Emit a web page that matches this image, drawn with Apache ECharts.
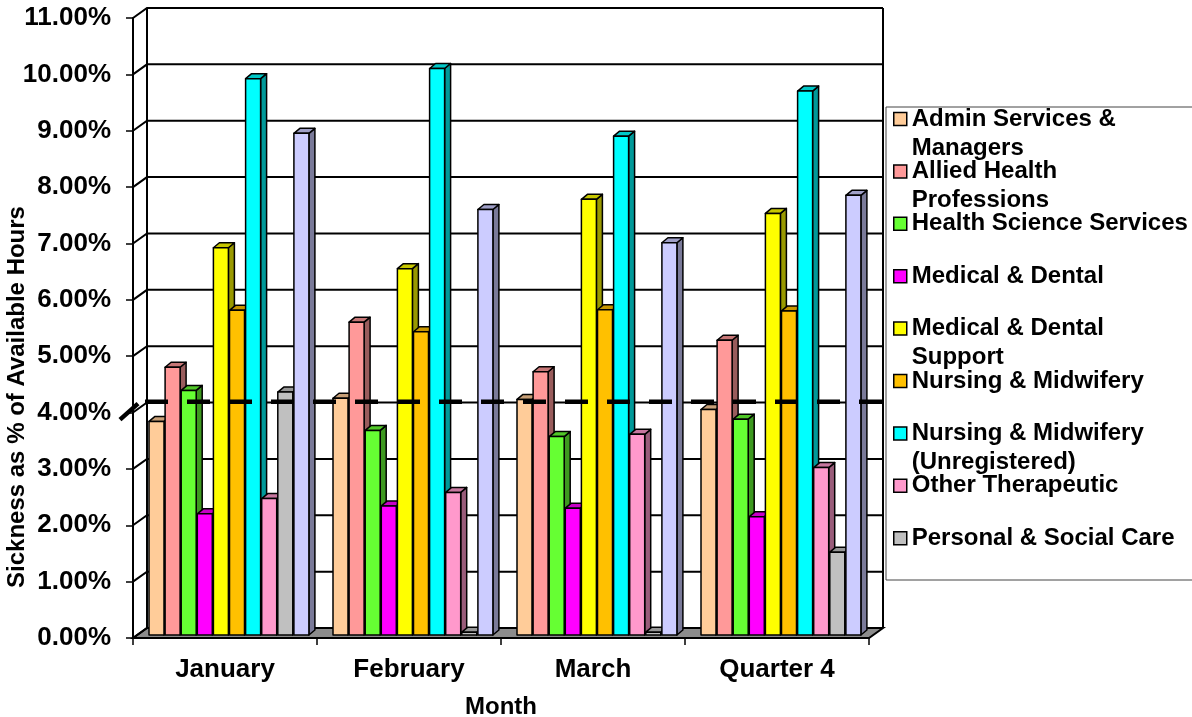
<!DOCTYPE html>
<html>
<head>
<meta charset="utf-8">
<script src="https://cdn.jsdelivr.net/npm/echarts@6/dist/echarts.min.js"></script>
<style>
html, body { margin: 0; padding: 0; background: #fff; }
#chart { width: 1192px; height: 717px; }
</style>
</head>
<body>
<div id="chart"></div>
<script>
// categories
var months = ["January", "February", "March", "Quarter 4"];
// y axis ticks (percent)
var yTicks = [0, 1, 2, 3, 4, 5, 6, 7, 8, 9, 10, 11];

// sickness % per staff group
var adminServices = [3.79, 4.20, 4.18, 4.00];
var alliedHealth = [4.75, 5.55, 4.67, 5.23];
var healthScience = [4.34, 3.63, 3.52, 3.83];
var medicalDental = [2.15, 2.29, 2.25, 2.10];
var medDentalSupport = [6.87, 6.50, 7.73, 7.48];
var nursingMidwifery = [5.76, 5.38, 5.77, 5.75];
var nursingUnregistered = [9.87, 10.05, 8.85, 9.65];
var otherTherapeutic = [2.42, 2.53, 3.56, 2.97];
var personalSocial = [4.31, 0.05, 0.05, 1.47];
var students = [8.90, 7.55, 6.96, 7.80];

// dashed target
var targetLevel = 4.14;

var seriesNames = [
  "Admin Services & Managers",
  "Allied Health Professions",
  "Health Science Services",
  "Medical & Dental",
  "Medical & Dental Support",
  "Nursing & Midwifery",
  "Nursing & Midwifery (Unregistered)",
  "Other Therapeutic",
  "Personal & Social Care",
  "Students"
];
var seriesData = [adminServices, alliedHealth, healthScience, medicalDental, medDentalSupport,
  nursingMidwifery, nursingUnregistered, otherTherapeutic, personalSocial, students];
var colors = ["#FFCC99", "#FF9999", "#66FF33", "#FF00FF", "#FFFF00",
  "#FFC000", "#00FFFF", "#FF99CC", "#C0C0C0", "#CCCCFF"];

// legend text as shown (wrapped)
var legendText = {
  "Admin Services & Managers": "Admin Services &\nManagers",
  "Allied Health Professions": "Allied Health\nProfessions",
  "Medical & Dental Support": "Medical & Dental\nSupport",
  "Nursing & Midwifery (Unregistered)": "Nursing & Midwifery\n(Unregistered)"
};

var FONT = '"Liberation Sans", Arial, sans-serif';

function shade(hex, f) {
  var n = parseInt(hex.slice(1), 16);
  var r = Math.round(((n >> 16) & 255) * f);
  var g = Math.round(((n >> 8) & 255) * f);
  var b = Math.round((n & 255) * f);
  return "rgb(" + r + "," + g + "," + b + ")";
}

// 3d-ish column
function barItem(si) {
  return function (params, api) {
    var cat = api.value(0);
    var v = api.value(1);
    var base = api.coord([cat, 0]);
    var top = api.coord([cat, v]);
    var bw = api.size([1, 0])[0];
    var k = bw / 184;
    var xl = base[0] - bw / 2 + (16 + si * 16.1) * k;
    var w = 15 * k;
    var yb = base[1] - 3;
    var yt = top[1] - 3;
    var ddx = 6, ddy = -5;
    var c = colors[si];
    var st = { stroke: "#000", lineWidth: 1.5, lineJoin: "round" };
    return {
      type: "group",
      children: [
        { type: "polygon", shape: { points: [[xl + w, yt], [xl + w + ddx, yt + ddy], [xl + w + ddx, yb + ddy], [xl + w, yb]] },
          style: Object.assign({ fill: shade(c, 0.6) }, st) },
        { type: "polygon", shape: { points: [[xl, yt], [xl + w, yt], [xl + w + ddx, yt + ddy], [xl + ddx, yt + ddy]] },
          style: Object.assign({ fill: shade(c, 0.78) }, st) },
        { type: "rect", shape: { x: xl, y: yt, width: w, height: yb - yt },
          style: Object.assign({ fill: c }, st) }
      ]
    };
  };
}

// walls, floor and gridlines
function frameItem(params, api) {
  var cs = params.coordSys;
  var x0 = cs.x, x1 = cs.x + cs.width;
  var dx = 14, dy = -10;
  var y0 = api.coord([0, 0])[1];
  var yTop = api.coord([0, yTicks[yTicks.length - 1]])[1];
  var line = { stroke: "#000", lineWidth: 2, fill: null };
  var children = [];
  children.push({ type: "polygon",
    shape: { points: [[x0, y0], [x1, y0], [x1 + dx, y0 + dy], [x0 + dx, y0 + dy]] },
    style: { fill: "#8c8c8c", stroke: "#000", lineWidth: 2 } });
  yTicks.forEach(function (t) {
    var y = api.coord([0, t])[1];
    children.push({ type: "polyline",
      shape: { points: [[x0, y], [x0 + dx, y + dy], [x1 + dx, y + dy]] }, style: line });
  });
  children.push({ type: "line", shape: { x1: x0 + dx, y1: y0 + dy, x2: x0 + dx, y2: yTop + dy }, style: line });
  children.push({ type: "line", shape: { x1: x1 + dx, y1: y0 + dy, x2: x1 + dx, y2: yTop + dy }, style: line });
  return { type: "group", children: children };
}

// dashed target line + break mark on the axis
function targetItem(params, api) {
  var cs = params.coordSys;
  var x0 = cs.x, x1 = cs.x + cs.width;
  var y = api.coord([0, api.value(1)])[1] - 3;
  return {
    type: "group",
    children: [
      { type: "line", shape: { x1: x0 + 12, y1: y, x2: x1 + 14, y2: y },
        style: { stroke: "#000", lineWidth: 4.5, lineDash: [23, 19] } },
      { type: "line", shape: { x1: x0 - 13, y1: y + 18, x2: x0 + 5, y2: y + 2 },
        style: { stroke: "#000", lineWidth: 4.5 } }
    ]
  };
}

var series = [{
  type: "custom",
  name: "frame",
  z: 1,
  silent: true,
  renderItem: frameItem,
  data: [[0, 0]]
}];
seriesData.forEach(function (arr, si) {
  series.push({
    type: "custom",
    name: seriesNames[si],
    z: 2,
    itemStyle: { color: colors[si] },
    renderItem: barItem(si),
    encode: { x: 0, y: 1 },
    data: arr.map(function (v, i) { return [i, v]; })
  });
});
series.push({
  type: "custom",
  name: "target",
  z: 3,
  silent: true,
  renderItem: targetItem,
  data: [[0, targetLevel]]
});

var chart = echarts.init(document.getElementById("chart"));
chart.setOption({
  backgroundColor: "#fff",
  animation: false,
  grid: { left: 133, right: 323, top: 18, bottom: 79, outerBoundsMode: "none", containLabel: false },
  xAxis: {
    type: "category",
    data: months,
    name: "Month",
    nameLocation: "middle",
    nameGap: 57,
    nameMoveOverlap: false,
    nameTextStyle: { fontFamily: FONT, fontWeight: "bold", fontSize: 24, color: "#000" },
    axisLine: { lineStyle: { color: "#000", width: 2 } },
    axisTick: { show: true, length: 7, alignWithLabel: false, lineStyle: { color: "#000", width: 1.5 } },
    axisLabel: { margin: 19, fontFamily: FONT, fontWeight: "bold", fontSize: 26, color: "#000" },
    splitLine: { show: false }
  },
  yAxis: {
    type: "value",
    min: 0,
    max: 11,
    interval: 1,
    name: "Sickness as % of Available Hours",
    nameLocation: "middle",
    nameGap: 104,
    nameMoveOverlap: false,
    nameTextStyle: { fontFamily: FONT, fontWeight: "bold", fontSize: 24, color: "#000", padding: [0, 138, 0, 0] },
    axisLine: { show: true, lineStyle: { color: "#000", width: 2 } },
    axisTick: { show: true, length: 7, lineStyle: { color: "#000", width: 1.5 } },
    axisLabel: {
      margin: 22, fontFamily: FONT, fontWeight: "bold", fontSize: 26, color: "#000",
      formatter: function (v) { return v.toFixed(2) + "%"; }
    },
    splitLine: { show: false }
  },
  legend: {
    orient: "vertical",
    left: 893,
    top: 75.5,
    padding: 0,
    itemGap: -34.6,
    itemWidth: 13,
    itemHeight: 13,
    icon: "rect",
    selectedMode: false,
    itemStyle: { borderColor: "#000", borderWidth: 1.5 },
    textStyle: { fontFamily: FONT, fontWeight: "bold", fontSize: 24, color: "#000", lineHeight: 29 },
    // blank line above so the first text line sits on the icon
    formatter: function (n) { return legendText[n] ? "\n" + legendText[n] : "\n" + n + "\n"; },
    data: seriesNames.slice(0, 9)
  },
  graphic: [{
    type: "rect",
    silent: true,
    shape: { x: 886, y: 107, width: 400, height: 473 },
    style: { fill: null, stroke: "#444", lineWidth: 1 }
  }],
  series: series
});
</script>
</body>
</html>
